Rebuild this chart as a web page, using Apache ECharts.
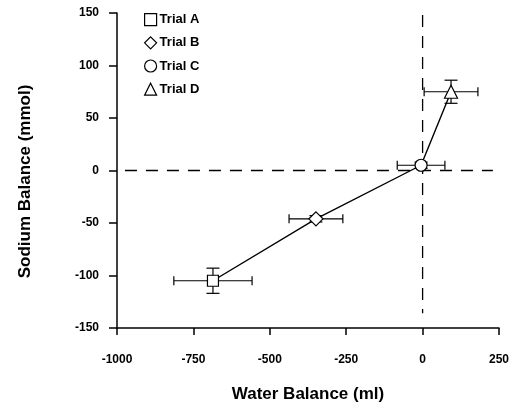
<!DOCTYPE html>
<html><head><meta charset="utf-8">
<script src="https://cdn.jsdelivr.net/npm/echarts@6/dist/echarts.min.js"></script>
<style>html,body{margin:0;padding:0;background:#fff}#c{width:517px;height:409px}</style>
</head><body><div id="c"></div>
<script>
const trials = ['Trial A', 'Trial B', 'Trial C', 'Trial D'];
const symbols = ['rect', 'diamond', 'circle', 'triangle'];
const waterMean = [-686, -349, -5, 93];
const waterErr = [128, 88, 78, 88];
const sodiumMean = [-105, -46, 5, 75];
const sodiumErr = [12, 3, 3, 11];
const xTicks = [-1000, -750, -500, -250, 0, 250];
const yTicks = [-150, -100, -50, 0, 50, 100, 150];
const hRef = [[-974, 0], [230, 0]];
const vRef = [[0, 148], [0, -136]];

const chart = echarts.init(document.getElementById('c'));
const font = '"Liberation Sans", Arial, sans-serif';
const errData = waterMean.map((x, i) => [x, sodiumMean[i], waterErr[i], sodiumErr[i]]);
const sizes = { rect: 11, diamond: 14, circle: 12, triangle: 13 };

const series = [
  { type: 'line', data: hRef, symbol: 'none', silent: true,
    lineStyle: { color: '#000', width: 1.3, type: [12, 9] } },
  { type: 'line', data: vRef, symbol: 'none', silent: true,
    lineStyle: { color: '#000', width: 1.3, type: [12, 9] } },
  { type: 'custom', data: errData, silent: true, z: 3,
    renderItem: function (params, api) {
      const x = api.value(0), y = api.value(1), ex = api.value(2), ey = api.value(3);
      const l = api.coord([x - ex, y]), r = api.coord([x + ex, y]);
      const t = api.coord([x, y + ey]), b = api.coord([x, y - ey]);
      const cap = 4.5, capY = 6.5;
      const st = { stroke: '#000', lineWidth: 1.2 };
      const ch = [
        { type: 'line', shape: { x1: l[0], y1: l[1], x2: r[0], y2: r[1] }, style: st },
        { type: 'line', shape: { x1: l[0], y1: l[1] - cap, x2: l[0], y2: l[1] + cap }, style: st },
        { type: 'line', shape: { x1: r[0], y1: r[1] - cap, x2: r[0], y2: r[1] + cap }, style: st },
        { type: 'line', shape: { x1: t[0], y1: t[1], x2: b[0], y2: b[1] }, style: st },
        { type: 'line', shape: { x1: t[0] - capY, y1: t[1], x2: t[0] + capY, y2: t[1] }, style: st },
        { type: 'line', shape: { x1: b[0] - capY, y1: b[1], x2: b[0] + capY, y2: b[1] }, style: st }
      ];
      return { type: 'group', children: ch };
    } },
  { type: 'line', data: waterMean.map((x, i) => [x, sodiumMean[i]]), symbol: 'none', z: 4,
    lineStyle: { color: '#000', width: 1.4 } }
];
trials.forEach((name, i) => {
  series.push({ type: 'scatter', name: name, symbol: symbols[i], z: 5,
    symbolSize: sizes[symbols[i]],
    data: [[waterMean[i], sodiumMean[i]]],
    itemStyle: { color: '#fff', borderColor: '#000', borderWidth: 1.2, opacity: 1 } });
});

chart.setOption({
  animation: false,
  backgroundColor: '#fff',
  textStyle: { fontFamily: font },
  grid: { left: 117, right: 18, top: 13, bottom: 81 },
  legend: {
    orient: 'vertical', left: 139, top: 8, itemGap: 10, itemWidth: 12, itemHeight: 12,
    data: trials.map((n, i) => ({ name: n, icon: symbols[i] })),
    itemStyle: { color: '#fff', borderColor: '#000', borderWidth: 1.2, opacity: 1 },
    textStyle: { fontFamily: font, fontWeight: 'bold', fontSize: 13, color: '#000', padding: [0, 0, 0, -2] }
  },
  xAxis: {
    type: 'value', min: -1000, max: 250, interval: 250,
    name: 'Water Balance (ml)', nameLocation: 'middle', nameGap: 58,
    nameTextStyle: { fontFamily: font, fontWeight: 'bold', fontSize: 17, color: '#000' },
    axisLine: { show: true, onZero: false, lineStyle: { color: '#000', width: 1.5 } },
    axisTick: { show: true, length: 7, lineStyle: { color: '#000', width: 1.5 } },
    axisLabel: { fontFamily: font, fontWeight: 'bold', fontSize: 12, color: '#000', margin: 26,
      formatter: v => xTicks.includes(v) ? String(v) : '' },
    splitLine: { show: false }
  },
  yAxis: {
    type: 'value', min: -150, max: 150, interval: 50,
    name: 'Sodium Balance (mmol)', nameLocation: 'middle', nameGap: 83, nameRotate: 90,
    nameTextStyle: { fontFamily: font, fontWeight: 'bold', fontSize: 17, color: '#000', padding: [0, 22, 0, 0] },
    axisLine: { show: true, onZero: false, lineStyle: { color: '#000', width: 1.5 } },
    axisTick: { show: true, length: 8, lineStyle: { color: '#000', width: 1.5 } },
    axisLabel: { fontFamily: font, fontWeight: 'bold', fontSize: 12, color: '#000', margin: 18,
      formatter: v => yTicks.includes(v) ? String(v) : '' },
    splitLine: { show: false }
  },
  series: series
});
</script></body></html>
